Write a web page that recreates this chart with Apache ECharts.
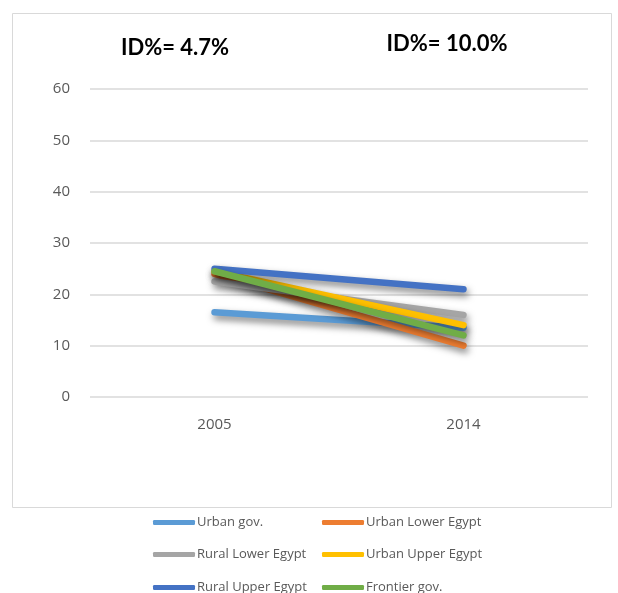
<!DOCTYPE html>
<html>
<head>
<meta charset="utf-8">
<script src="https://cdn.jsdelivr.net/npm/echarts@6/dist/echarts.min.js"></script>
<style>
  html, body { margin: 0; padding: 0; background: #fff; }
  #chart { width: 618px; height: 593px; }
</style>
</head>
<body>
<div id="chart"></div>
<script>
// Survey years on the category axis
const years = ['2005', '2014'];

// Region groups and their values per year
const seriesNames = ['Urban gov.', 'Urban Lower Egypt', 'Rural Lower Egypt', 'Urban Upper Egypt', 'Rural Upper Egypt', 'Frontier gov.'];
const urbanGov = [16.5, 13.5];
const urbanLowerEgypt = [24, 10];
const ruralLowerEgypt = [22.5, 16];
const urbanUpperEgypt = [24.5, 14];
const ruralUpperEgypt = [25, 21];
const frontierGov = [24.5, 12];

// Annotations above the two years
const headlines = ['ID%= 4.7%', 'ID%= 10.0%'];

const colors = ['#5B9BD5', '#ED7D31', '#A5A5A5', '#FFC000', '#4472C4', '#70AD47'];
const values = [urbanGov, urbanLowerEgypt, ruralLowerEgypt, urbanUpperEgypt, ruralUpperEgypt, frontierGov];

const chart = echarts.init(document.getElementById('chart'), null, { renderer: 'canvas' });

const series = seriesNames.map((name, i) => ({
  name: name,
  type: 'line',
  data: values[i],
  symbol: 'none',
  color: colors[i],
  lineStyle: {
    width: 6.5,
    cap: 'round',
    color: colors[i],
    shadowColor: 'rgba(0,0,0,0.5)',
    shadowBlur: 7,
    shadowOffsetX: 2,
    shadowOffsetY: 4
  },
  z: 2 + i
}));

// One legend per entry, laid out as a 3x2 table below the frame
const legendPos = [
  [153, 516], [322, 516],
  [153, 548], [322, 548],
  [153, 581], [322, 581]
];
const legends = seriesNames.map((name, i) => ({
  data: [name],
  left: legendPos[i][0],
  top: legendPos[i][1],
  padding: 0,
  icon: 'roundRect',
  itemWidth: 42,
  itemHeight: 5,
  itemGap: 2,
  selectedMode: false,
  textStyle: { color: '#595959', fontSize: 13, fontFamily: 'Open Sans', padding: [0, 0, 0, -3] }
}));

const headlineStyle = { fontSize: 22, fontWeight: 'bold', color: '#000', fontFamily: 'Lato' };

chart.setOption({
  animation: false,
  backgroundColor: '#ffffff',
  title: [
    { text: headlines[0], left: 175, top: 37, textAlign: 'center', padding: 0, textStyle: headlineStyle },
    { text: headlines[1], left: 447, top: 33, textAlign: 'center', padding: 0, textStyle: headlineStyle }
  ],
  graphic: [{
    type: 'rect',
    shape: { x: 12.5, y: 13.5, width: 599, height: 494 },
    style: { fill: 'none', stroke: '#d9d9d9', lineWidth: 1 },
    z: -1
  }],
  legend: legends,
  grid: { left: 90, right: 30, top: 89, bottom: 196 },
  xAxis: {
    type: 'category',
    data: years,
    boundaryGap: true,
    axisLine: { show: false },
    axisTick: { show: false },
    axisLabel: { color: '#595959', fontSize: 15, margin: 20, fontFamily: 'Open Sans' }
  },
  yAxis: {
    type: 'value',
    min: 0,
    max: 60,
    interval: 10,
    axisLine: { show: false },
    axisTick: { show: false },
    axisLabel: { color: '#595959', fontSize: 15, margin: 20, fontFamily: 'Open Sans' },
    splitLine: { lineStyle: { color: '#d9d9d9', width: 1.5 } }
  },
  series: series
});
</script>
</body>
</html>
